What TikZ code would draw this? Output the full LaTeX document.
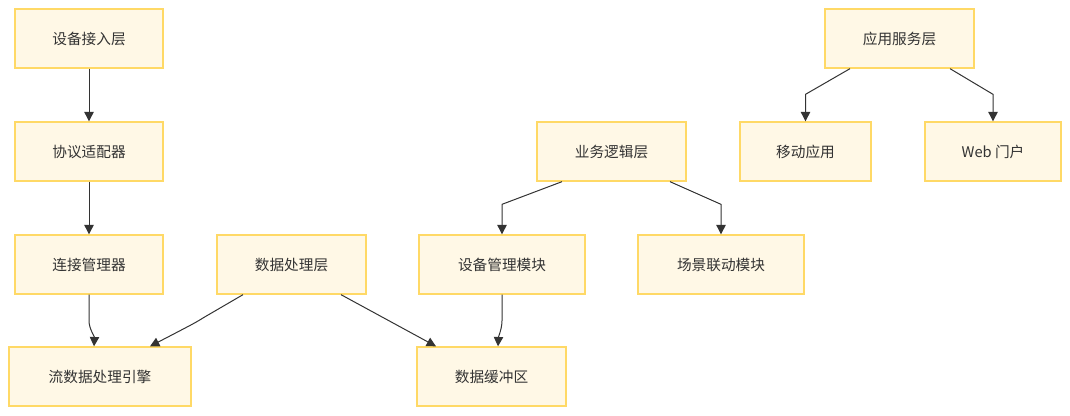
\documentclass[tikz,border=0pt]{standalone}
\usepackage{fontspec}
\setmainfont{Noto Sans CJK SC}
\usetikzlibrary{arrows.meta,calc}
\definecolor{boxfill}{HTML}{FFF8E6}
\definecolor{boxline}{HTML}{FFD966}
\definecolor{inkgray}{HTML}{333333}
\tikzset{
	layerbox/.style={draw=boxline,fill=boxfill,line width=1pt,minimum height=44.25pt,
		inner sep=0pt,text=inkgray,font=\fontsize{11}{13}\selectfont},
	flow/.style={draw=inkgray,line width=0.75pt,-{Triangle[length=7pt,width=7pt]}}
}
\begin{document}
\begin{tikzpicture}[x=0.75pt,y=-0.75pt]
	\useasboundingbox (0,0) rectangle (1070,416);
	% nodes
	\node[layerbox,minimum width=111pt] (sbjr) at (89,38.5) {设备接入层};
	\node[layerbox,minimum width=111pt] (xysp) at (89,151.5) {协议适配器};
	\node[layerbox,minimum width=111pt] (ljgl) at (89,264.5) {连接管理器};
	\node[layerbox,minimum width=136.5pt] (lsjy) at (100,376.5) {流数据处理引擎};
	\node[layerbox,minimum width=111.75pt] (sjcl) at (291.5,264.5) {数据处理层};
	\node[layerbox,minimum width=111.75pt] (sjhc) at (491.5,376.5) {数据缓冲区};
	\node[layerbox,minimum width=124.5pt] (sbgl) at (502,264.5) {设备管理模块};
	\node[layerbox,minimum width=111.75pt] (ywlj) at (611.5,151.5) {业务逻辑层};
	\node[layerbox,minimum width=124.5pt] (cjld) at (721,264.5) {场景联动模块};
	\node[layerbox,minimum width=111.75pt] (yyfw) at (899.5,38.5) {应用服务层};
	\node[layerbox,minimum width=98.25pt] (ydyy) at (805.5,151.5) {移动应用};
	\node[layerbox,minimum width=102pt] (webm) at (993,151.5) {Web 门户};
	% edges
	\draw[flow] (sbjr) -- (xysp);
	\draw[flow] (xysp) -- (ljgl);
	\draw[flow] (ljgl.south) -- ++(0,26) .. controls ++(0,8) and ($(lsjy.north)+(-5.5,-10)$) .. ($(lsjy.north)+(-6,0)$);
	\draw[flow] ($(sjcl.south)+(-48.5,0)$) -- ($(sjcl.south)+(-88,23)$) .. controls ($(sjcl.south)+(-96,28)$) .. ($(lsjy.north)+(50,0)$);
	\draw[flow] ($(sjcl.south)+(49.5,0)$) -- ($(sjhc.north)+(-55.5,0)$);
	\draw[flow] (sbgl.south) -- ++(0,26) .. controls ++(0,8) and ($(sjhc.north)+(7,-10)$) .. ($(sjhc.north)+(6.5,0)$);
	\draw[flow] ($(ywlj.south)+(-49.5,0)$) -- ($(sbgl.north)+(0,-30)$) -- (sbgl.north);
	\draw[flow] ($(ywlj.south)+(58.5,0)$) -- ($(cjld.north)+(0,-30)$) -- (cjld.north);
	\draw[flow] ($(yyfw.south)+(-49.5,0)$) -- ($(ydyy.north)+(0,-27)$) -- (ydyy.north);
	\draw[flow] ($(yyfw.south)+(50.5,0)$) -- ($(webm.north)+(0,-27)$) -- (webm.north);
\end{tikzpicture}
\end{document}
